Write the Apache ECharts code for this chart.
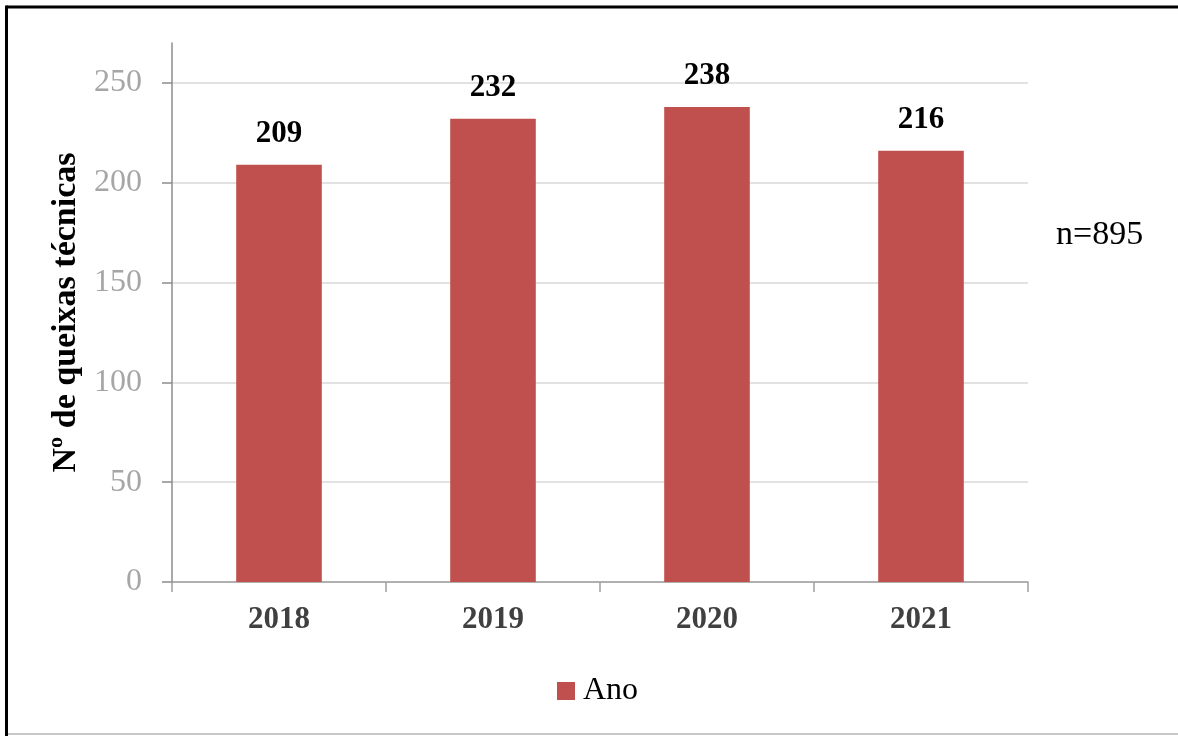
<!DOCTYPE html>
<html>
<head>
<meta charset="utf-8">
<script src="https://cdn.jsdelivr.net/npm/echarts@6/dist/echarts.min.js"></script>
<style>
  html, body { margin: 0; padding: 0; background: #ffffff; }
  #chart { width: 1178px; height: 736px; }
</style>
</head>
<body>
<div id="chart"></div>
<script>
const categories = ['2018', '2019', '2020', '2021'];
const seriesName = 'Ano';
const values = [209, 232, 238, 216];
const yTickValues = [0, 50, 100, 150, 200, 250];
const yAxisTitle = 'Nº de queixas técnicas';
const noteText = 'n=895';

const FONT = '"Liberation Serif", "DejaVu Serif", serif';

const chart = echarts.init(document.getElementById('chart'), null, { renderer: 'canvas' });

const option = {
  backgroundColor: '#ffffff',
  animation: false,
  textStyle: { fontFamily: FONT },
  grid: { left: 172, right: 150, top: 43, bottom: 154, containLabel: false },
  legend: {
    data: [seriesName],
    left: 552,
    top: 670,
    itemWidth: 18,
    itemHeight: 18,
    icon: 'rect',
    itemGap: 10,
    textStyle: { fontFamily: FONT, fontSize: 32, color: '#000000', padding: [0, 0, 0, 3], lineHeight: 20 }
  },
  xAxis: {
    type: 'category',
    data: categories,
    axisLine: { show: true, lineStyle: { color: '#A0A0A0', width: 1.5 } },
    axisTick: { show: true, alignWithLabel: false, length: 10, lineStyle: { color: '#A0A0A0', width: 1.5 } },
    axisLabel: { fontFamily: FONT, fontSize: 31, fontWeight: 'bold', color: '#404040', margin: 22 },
    splitLine: { show: false }
  },
  yAxis: {
    type: 'value',
    min: 0,
    max: 270,
    interval: 50,
    name: yAxisTitle,
    nameLocation: 'middle',
    nameRotate: 90,
    nameGap: 85,
    nameTextStyle: { fontFamily: FONT, fontSize: 34, fontWeight: 'bold', color: '#000000' },
    axisLine: { show: true, lineStyle: { color: '#8C8C8C', width: 1.5 } },
    axisTick: { show: true, length: 10, customValues: yTickValues, lineStyle: { color: '#8C8C8C', width: 1.5 } },
    axisLabel: { fontFamily: FONT, fontSize: 32, color: '#A6A6A6', margin: 30, customValues: yTickValues },
    splitLine: {
      show: true,
      lineStyle: {
        color: ['#D9D9D9', '#D9D9D9', '#D9D9D9', '#D9D9D9', '#D9D9D9', '#D9D9D9', 'rgba(0,0,0,0)'],
        width: 1.5
      }
    }
  },
  series: [{
    name: seriesName,
    type: 'bar',
    data: values,
    barWidth: '40%',
    itemStyle: { color: '#C0504D' },
    label: {
      show: true,
      position: 'top',
      distance: 15,
      fontFamily: FONT,
      fontSize: 31,
      fontWeight: 'bold',
      color: '#000000'
    }
  }],
  graphic: [
    { type: 'line', shape: { x1: 8, y1: 734, x2: 1178, y2: 734 }, style: { stroke: '#C8C8C8', lineWidth: 2 }, silent: true },
    { type: 'line', shape: { x1: 6.5, y1: 7, x2: 1178, y2: 7 }, style: { stroke: '#000000', lineWidth: 3 }, silent: true },
    { type: 'line', shape: { x1: 6.5, y1: 5.5, x2: 6.5, y2: 736 }, style: { stroke: '#000000', lineWidth: 3 }, silent: true },
    {
      type: 'text', left: 1056, top: 218, silent: true,
      style: { text: noteText, fontFamily: FONT, fontSize: 34, fill: '#000000' }
    }
  ]
};

chart.setOption(option);
</script>
</body>
</html>
